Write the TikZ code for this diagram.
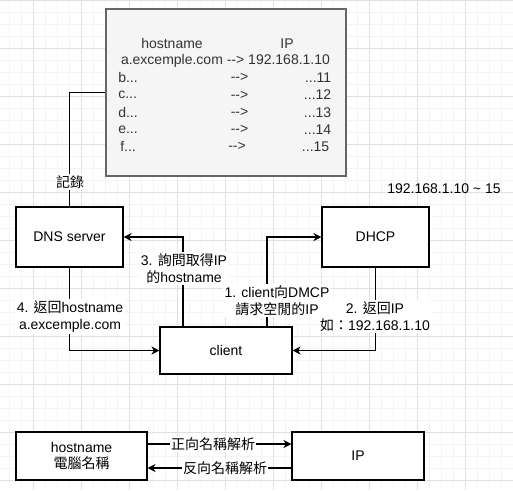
\documentclass[tikz,border=0pt]{standalone}
\usepackage{fontspec}
\setmainfont{Liberation Sans}[Ligatures=NoCommon]
\newfontfamily\cjk{Noto Sans CJK TC}
\newcommand\zh[1]{{\cjk #1}}
\newcommand\ar{-{}-{}>}
\usetikzlibrary{arrows.meta,calc}
\definecolor{gridminor}{HTML}{F4F4F4}
\definecolor{gridmajor}{HTML}{E0E0E0}
\definecolor{tblfill}{HTML}{F5F5F5}
\definecolor{tbldraw}{HTML}{666666}
\definecolor{tbltext}{HTML}{333333}
\begin{document}
\begin{tikzpicture}[x=0.75pt,y=-0.75pt,
  every node/.style={font=\fontsize{10.5}{12.9}\selectfont, inner sep=1pt},
  box/.style={draw=black, line width=0.8pt, fill=white, align=center, inner sep=0pt},
  conn/.style={line width=0.8pt, draw=black},
  arr/.style={conn, -{Stealth[length=6pt,width=6pt,inset=1.8pt]}},
  lbl/.style={fill=white, align=center, inner sep=1pt},
  ttext/.style={text=tbltext, inner sep=0pt}
]
\useasboundingbox (0,0) rectangle (513,490);
\fill[white] (0,0) rectangle (513,490);
% grid
\foreach \i in {0,...,42} {\draw[gridminor, line width=0.5pt] ({9+12*\i},0) -- ({9+12*\i},490);}
\foreach \j in {0,...,40} {\draw[gridminor, line width=0.5pt] (0,{12*\j}) -- (513,{12*\j});}
\foreach \i in {0,...,10} {\draw[gridmajor, line width=0.6pt] ({33+48*\i},0) -- ({33+48*\i},490);}
\foreach \j in {0,...,10} {\draw[gridmajor, line width=0.6pt] (0,{48*\j}) -- (513,{48*\j});}

% table box
\node[draw=tbldraw, fill=tblfill, line width=0.8pt, minimum width=240*0.75pt, minimum height=167*0.75pt, inner sep=0pt] (tbl) at (226,92.5) {};
\node[ttext] (th1) at (172,43.5) {hostname};
\node[ttext] (th2) at (287,43.5) {IP};
\node[ttext] (ra) at (225.5,60.7) {a.excemple.com \ar{} 192.168.1.10};
\node[ttext, anchor=west] (rb1) at (118,77.9) {b...};
\node[ttext] (rb2) at (239.5,77.9) {\ar};
\node[ttext, anchor=east] (rb3) at (331.5,77.9) {...11};
\node[ttext, anchor=west] (rc1) at (118,95.1) {c...};
\node[ttext] (rc2) at (239.5,95.1) {\ar};
\node[ttext, anchor=east] (rc3) at (331.5,95.1) {...12};
\node[ttext, anchor=west] (rd1) at (118,112.3) {d...};
\node[ttext] (rd2) at (239.5,112.3) {\ar};
\node[ttext, anchor=east] (rd3) at (331.5,112.3) {...13};
\node[ttext, anchor=west] (re1) at (118,129.5) {e...};
\node[ttext] (re2) at (239.5,129.5) {\ar};
\node[ttext, anchor=east] (re3) at (331.5,129.5) {...14};
\node[ttext, anchor=west] (rf1) at (120,146.7) {f...};
\node[ttext] (rf2) at (237,146.7) {\ar};
\node[ttext, anchor=east] (rf3) at (329.5,146.7) {...15};

% boxes
\node[box, minimum width=107*0.75pt, minimum height=60*0.75pt] (dns) at (69.5,237) {DNS server};
\node[box, minimum width=107*0.75pt, minimum height=60*0.75pt] (dhcp) at (375.5,237) {DHCP};
\node[box, minimum width=132*0.75pt, minimum height=47*0.75pt] (client) at (226,350.5) {client};
\node[box, minimum width=131*0.75pt, minimum height=48*0.75pt] (hn) at (81.5,456) {hostname\\[-1pt]\zh{電腦名稱}};
\node[box, minimum width=132*0.75pt, minimum height=48*0.75pt] (ip) at (358,456) {IP};

\node (range) at (444,189) {192.168.1.10 \textasciitilde{} 15};

% connectors
\draw[conn] (dns.north) |- (tbl.west);
\node[lbl] (rec) at (70,182) {\zh{記錄}};

\coordinate (c3) at ($(client.north)+(-43,0)$);
\coordinate (c1) at ($(client.north)+(41,0)$);
\draw[arr] (c3) |- (dns.east);
\draw[arr] (c1) |- (dhcp.west);
\draw[arr] (dhcp.south) |- (client.east);
\draw[arr] (dns.south) |- (client.west);

\node[lbl] (l3) at (184,268.5) {3. \zh{詢問取得}IP\\\zh{的}hostname};
\node[lbl] (l1) at (277,300.5) {1. client\zh{向}DMCP\\\zh{請求空閒的}IP};
\node[lbl] (l2) at (375,316.5) {2. \zh{返回}IP\\\zh{如：}192.168.1.10};
\node[lbl] (l4) at (70,316.5) {4. \zh{返回}hostname\\a.excemple.com};

% bottom
\draw[arr] ($(hn.east)+(0,-12)$) -- ($(ip.west)+(0,-12)$);
\draw[arr] ($(ip.west)+(0,12)$) -- ($(hn.east)+(0,12)$);
\node[lbl] (fwd) at (213,444) {\zh{正向名稱解析}};
\node[lbl] (rev) at (225,468) {\zh{反向名稱解析}};
\end{tikzpicture}
\end{document}
